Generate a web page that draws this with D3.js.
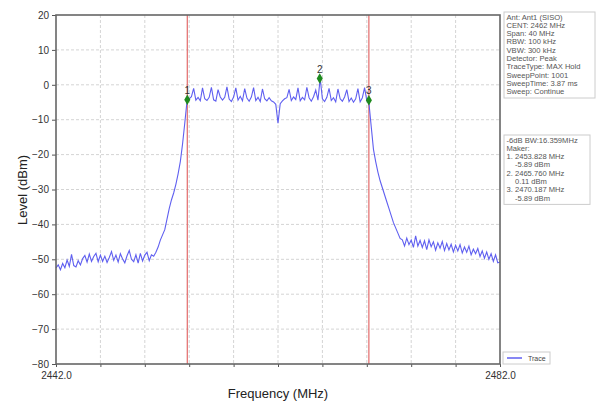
<!DOCTYPE html>
<html><head><meta charset="utf-8">
<script src="https://cdn.jsdelivr.net/npm/d3@7"></script>
<style>body{margin:0;background:#fff;}svg{display:block;font-family:"Liberation Sans",Arial,sans-serif;}</style>
</head><body>
<svg id="chart" width="597" height="401"></svg>
<script>
// ---- data ----
const freqStart = 2442.0;      // MHz
const freqStep = 0.2;          // MHz between sweep samples
const levels = [
 -52.5,-51.6,-53.0,-51.2,-52.4,-50.2,-52.0,-48.6,-51.8,-52.2,
 -50.4,-51.6,-49.8,-48.9,-50.8,-48.5,-50.6,-49.2,-48.3,-50.7,
 -48.8,-50.6,-49.1,-50.9,-49.5,-47.8,-50.3,-48.8,-50.8,-48.4,
 -49.9,-51.0,-49.0,-47.5,-50.0,-50.7,-48.7,-51.1,-48.3,-50.5,
 -48.8,-48.0,-50.4,-48.7,-49.1,-48.0,-46.5,-44.5,-43.0,-41.5,
 -38.5,-35.5,-33.0,-31.0,-28.5,-25.5,-22.0,-17.0,-11.0,-4.8,
 -4.0,-3.4,-1.0,-4.4,-3.6,-4.6,-0.9,-4.0,-4.5,-3.6,
 -0.7,-4.3,-4.7,-1.4,-3.5,-4.4,-3.6,-0.6,-4.1,-4.8,
 -3.5,-0.9,-4.4,-3.3,-4.6,-1.1,-3.8,-4.7,-3.5,-0.8,
 -4.5,-3.6,-4.8,-1.2,-4.0,-4.6,-3.7,-4.6,-4.9,-5.6,
 -11.0,-5.4,-4.6,-4.0,-3.7,-1.3,-4.5,-3.5,-4.2,-0.9,
 -4.6,-3.6,-4.3,-0.7,-3.7,-4.7,-3.4,-1.5,-4.4,1.8,
 -4.0,-4.8,-3.6,-1.0,-4.5,-3.7,-4.9,-1.2,-4.0,-4.7,
 -3.5,-1.4,-4.8,-3.8,-5.0,-4.0,-1.1,-4.9,-3.7,-0.8,
 -4.5,-5.5,-12.0,-18.5,-22.0,-25.0,-27.5,-29.5,-31.5,-33.5,
 -35.5,-37.5,-39.5,-41.0,-42.5,-44.0,-44.4,-46.2,-43.9,-45.8,
 -44.5,-46.6,-43.3,-46.2,-44.6,-46.6,-44.7,-47.2,-44.4,-46.4,
 -45.0,-47.4,-45.3,-46.8,-44.9,-47.5,-45.5,-47.3,-45.7,-47.9,
 -46.0,-47.6,-45.8,-48.2,-46.5,-48.0,-46.2,-48.7,-47.1,-48.4,
 -46.9,-49.2,-47.6,-49.7,-47.9,-50.0,-48.4,-50.6,-48.7,-51.0,
 -50.8
];
const markerLabels = ["1", "2", "3"];
const markerFreqs = [2453.828, 2465.760, 2470.187];
const markerLevels = [-4.3, 1.8, -4.4];   // as drawn on the trace
const lineFreqs = [2453.828, 2470.187];   // -6 dB bandwidth lines
const yTicks = [20, 10, 0, -10, -20, -30, -40, -50, -60, -70, -80];
const xTicks = [2442, 2446, 2450, 2454, 2458, 2462, 2466, 2470, 2474, 2478, 2482];
const xTickLabels = ["2442.0", "", "", "", "", "", "", "", "", "", "2482.0"];
const infoLines = ["Ant: Ant1 (SISO)", "CENT: 2462 MHz", "Span: 40 MHz", "RBW: 100 kHz", "VBW: 300 kHz",
  "Detector: Peak", "TraceType: MAX Hold", "SweepPoint: 1001", "SweepTime: 3.87 ms", "Sweep: Continue"];
const bwLines = ["-6dB BW:16.359MHz", "Maker:", "1. 2453.828 MHz", "    -5.89 dBm", "2. 2465.760 MHz",
  "    0.11 dBm", "3. 2470.187 MHz", "    -5.89 dBm"];
const legendName = "Trace";

// ---- drawing ----
const svg = d3.select("#chart");
const L = 56, R = 500, T = 15, B = 364;
const x = d3.scaleLinear().domain([2442, 2482]).range([L, R]);
const y = d3.scaleLinear().domain([-80, 20]).range([B, T]);
const pts = levels.map((v, i) => [freqStart + i * freqStep, v]);

// grid
svg.append("g").selectAll("line").data(yTicks.filter(d => d > -80 && d < 20)).join("line")
  .attr("x1", L).attr("x2", R).attr("y1", d => y(d)).attr("y2", d => y(d))
  .attr("stroke", "#d4d4d4").attr("stroke-dasharray", "3,2");
svg.append("g").selectAll("line").data(xTicks.slice(1, -1)).join("line")
  .attr("y1", T).attr("y2", B).attr("x1", d => x(d)).attr("x2", d => x(d))
  .attr("stroke", "#d4d4d4").attr("stroke-dasharray", "3,2");

// axes
const yAxis = svg.append("g").attr("transform", `translate(${L},0)`)
  .call(d3.axisLeft(y).tickValues(yTicks).tickSize(4).tickPadding(3).tickFormat(d3.format("d")));
const xAxis = svg.append("g").attr("transform", `translate(0,${B})`)
  .call(d3.axisBottom(x).tickValues(xTicks).tickSize(3).tickPadding(5).tickFormat((d, i) => xTickLabels[i]));
[yAxis, xAxis].forEach(g => {
  g.select(".domain").remove();
  g.selectAll("line").attr("stroke", "#555");
  g.selectAll("text").attr("fill", "#333").style("font-size", "10px").style("font-family", "Liberation Sans, Arial, sans-serif");
});

// red bandwidth lines
svg.append("g").selectAll("line").data(lineFreqs).join("line")
  .attr("x1", d => x(d)).attr("x2", d => x(d)).attr("y1", T).attr("y2", B)
  .attr("stroke", "#e36a6a").attr("stroke-width", 1.2);

// trace
svg.append("path").datum(pts)
  .attr("d", d3.line().x(d => x(d[0])).y(d => y(d[1])))
  .attr("fill", "none").attr("stroke", "#5f5ff0").attr("stroke-width", 1.1);

// frame
svg.append("rect").attr("x", L).attr("y", T).attr("width", R - L).attr("height", B - T)
  .attr("fill", "none").attr("stroke", "#666").attr("stroke-width", 1.6);

// markers
const mk = svg.append("g");
mk.selectAll("path").data(markerFreqs).join("path")
  .attr("transform", (d, i) => `translate(${x(d)},${y(markerLevels[i])})`)
  .attr("d", d3.symbol().type(d3.symbolDiamond).size(32))
  .attr("fill", "#1e8a1e");
mk.selectAll("text").data(markerFreqs).join("text")
  .attr("x", d => x(d)).attr("y", (d, i) => y(markerLevels[i]) - 6)
  .attr("text-anchor", "middle").attr("fill", "#333").style("font-size", "10px")
  .text((d, i) => markerLabels[i]);

// axis titles
svg.append("text").attr("x", 278).attr("y", 398).attr("text-anchor", "middle")
  .attr("fill", "#222").style("font-size", "13px").text("Frequency (MHz)");
svg.append("text").attr("transform", "translate(27,190) rotate(-90)").attr("text-anchor", "middle")
  .attr("fill", "#222").style("font-size", "13px").text("Level (dBm)");

// info boxes
function infoBox(lines, x0, y0, w, lh, fs) {
  const g = svg.append("g");
  g.append("rect").attr("x", x0).attr("y", y0).attr("width", w).attr("height", lines.length * lh + 3)
    .attr("fill", "#fff").attr("stroke", "#ccc");
  g.selectAll("text").data(lines).join("text")
    .attr("x", x0 + 2.5).attr("y", (d, i) => y0 + 7.5 + i * lh)
    .attr("fill", "#555").style("font-size", fs + "px").attr("xml:space", "preserve")
    .style("white-space", "pre").text(d => d);
}
infoBox(infoLines, 504, 12, 91, 8.3, 7.6);
infoBox(bwLines, 504, 135, 86, 8.3, 7.6);

// legend
const lg = svg.append("g");
lg.append("rect").attr("x", 503).attr("y", 352).attr("width", 47).attr("height", 12)
  .attr("fill", "#fff").attr("stroke", "#ccc");
lg.append("line").attr("x1", 507).attr("x2", 522).attr("y1", 358).attr("y2", 358)
  .attr("stroke", "#5f5ff0").attr("stroke-width", 1.5);
lg.append("text").attr("x", 528).attr("y", 360.5).attr("fill", "#444").style("font-size", "7px").text(legendName);
</script>
</body></html>
